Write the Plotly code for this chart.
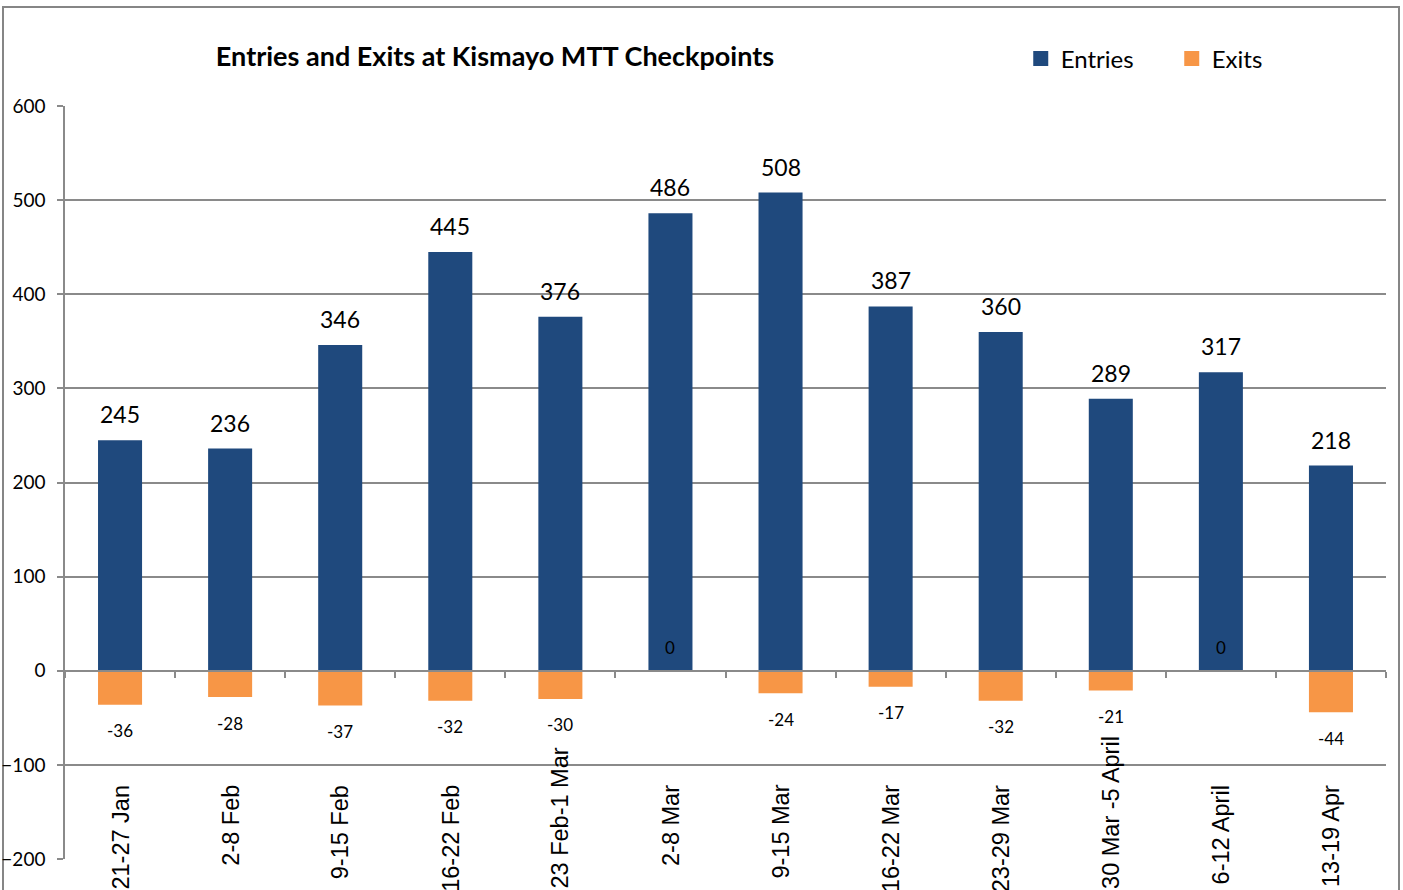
import plotly.graph_objects as go

categories = ["21-27 Jan", "2-8 Feb", "9-15 Feb", "16-22 Feb", "23 Feb-1 Mar", "2-8 Mar",
              "9-15 Mar", "16-22 Mar", "23-29 Mar", "30 Mar -5 April", "6-12 April", "13-19 Apr"]
entries = [245, 236, 346, 445, 376, 486, 508, 387, 360, 289, 317, 218]
exits = [-36, -28, -37, -32, -30, 0, -24, -17, -32, -21, 0, -44]
y_ticks = [-200, -100, 0, 100, 200, 300, 400, 500, 600]

BLUE = "#1F497D"
ORANGE = "#F79646"
GRID = "#8a8a8a"
FONT = "Lato, 'Open Sans', sans-serif"
LABEL_FONT = "'Liberation Sans', Arial, sans-serif"

x = list(range(len(categories)))

fig = go.Figure()
fig.add_trace(go.Bar(x=x, y=entries, name="Entries", marker=dict(color=BLUE, line=dict(width=0)),
                     width=0.4, showlegend=False))
fig.add_trace(go.Bar(x=x, y=exits, name="Exits", marker=dict(color=ORANGE, line=dict(width=0)),
                     width=0.4, xaxis="x2", showlegend=False))
# legend entries with larger square keys
for name, col in [("Entries", BLUE), ("Exits", ORANGE)]:
    fig.add_trace(go.Scatter(x=[None], y=[None], mode="markers", name=name,
                             marker=dict(symbol="square", size=15, color=col, line=dict(width=0))))

annotations = []
for i, v in enumerate(entries):
    annotations.append(dict(x=i, y=v, xref="x", yref="y", text=str(v), showarrow=False,
                            yshift=26, yanchor="middle", font=dict(size=23, color="black", family=FONT)))
for i, v in enumerate(exits):
    annotations.append(dict(x=i, y=v, xref="x", yref="y", text=str(v), showarrow=False,
                            yshift=(-26 if v < 0 else 23), yanchor="middle",
                            font=dict(size=17, color="black", family=FONT)))
for i, c in enumerate(categories):
    long = len(c) > 10
    annotations.append(dict(x=i, y=(-0.042 if long else 0.1009), xref="x", yref="paper", text=c,
                            showarrow=False, textangle=-90, xanchor="center",
                            yanchor=("bottom" if long else "top"),
                            font=dict(size=23.5, color="black", family=LABEL_FONT)))

fig.update_layout(
    width=1403, height=890,
    paper_bgcolor="white", plot_bgcolor="white",
    margin=dict(l=65, r=17, t=106, b=31, autoexpand=False),
    barmode="relative",
    title=dict(text="<b>Entries and Exits at Kismayo MTT Checkpoints</b>", x=495 / 1403, xanchor="center",
               y=1 - 57 / 890, yanchor="middle", font=dict(size=27, color="black", family=FONT)),
    legend=dict(orientation="h", x=0.7235, xanchor="left", y=1.0624, yanchor="middle",
                font=dict(size=24, color="black", family=FONT), entrywidth=106,
                itemsizing="trace", bgcolor="rgba(0,0,0,0)", traceorder="normal"),
    xaxis=dict(range=[-0.5, len(categories) - 0.5], showticklabels=False, showgrid=False,
               zeroline=False, showline=False, ticks="", automargin=False),
    xaxis2=dict(range=[-0.5, len(categories) - 0.5], overlaying="x", anchor="free",
                position=0.25, showticklabels=False, showgrid=False, zeroline=False,
                showline=True, linecolor=GRID, linewidth=1.5, automargin=False,
                tickmode="array", tickvals=[i + 0.5 for i in range(-1, len(categories))],
                ticks="outside", ticklen=6, tickcolor=GRID, tickwidth=1.5),
    yaxis=dict(range=[-200, 600], tickmode="array", tickvals=y_ticks,
               showgrid=True, gridcolor=GRID, gridwidth=1.5, zeroline=False,
               showline=True, linecolor=GRID, linewidth=1.5, automargin=False,
               ticks="outside", ticklen=6, tickcolor=GRID, tickwidth=1.5,
               ticklabelstandoff=8,
               tickfont=dict(size=19, color="black", family=FONT)),
    annotations=annotations,
    shapes=[dict(type="rect", xref="paper", yref="paper", x0=(3 - 65) / 1321, x1=(1399 - 65) / 1321,
                 y0=(859 - 910) / 753, y1=(859 - 7) / 753, line=dict(color="#868686", width=2),
                 fillcolor="rgba(0,0,0,0)", layer="below")],
)

fig.write_html("out.html", config={"displayModeBar": False},
               post_script="document.body.style.margin='0';document.body.style.overflow='hidden';")
